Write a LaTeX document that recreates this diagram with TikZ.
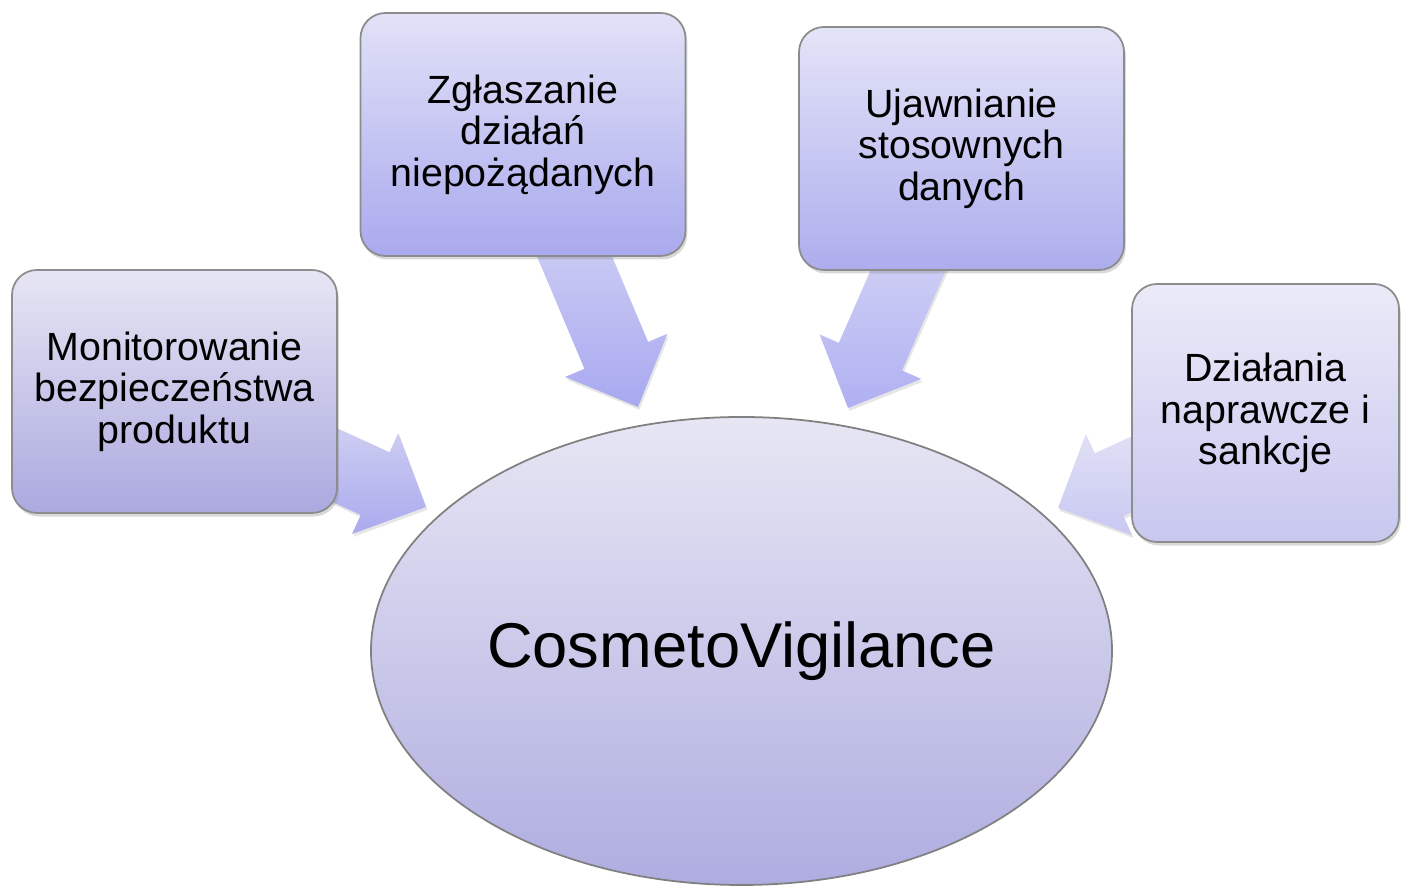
\documentclass[tikz,border=0pt]{standalone}
\usepackage{fontspec}
\setmainfont{Liberation Sans}
\usetikzlibrary{calc,shapes.geometric,shadows,backgrounds}

\definecolor{hubtop}{HTML}{E7E6F4}
\definecolor{hubbot}{HTML}{AFADE0}
\definecolor{montop}{HTML}{E7E6F4}
\definecolor{monbot}{HTML}{ABA9DF}
\definecolor{zgltop}{HTML}{E2E2F8}
\definecolor{zglbot}{HTML}{A9A9EE}
\definecolor{ujawtop}{HTML}{E4E4F8}
\definecolor{ujawbot}{HTML}{ADADEE}
\definecolor{dzialtop}{HTML}{EBEAF8}
\definecolor{dzialbot}{HTML}{C8C7EF}
\definecolor{aronetop}{HTML}{E4E4F6}
\definecolor{aronebot}{HTML}{AAAAEE}
\definecolor{artwotop}{HTML}{E6E6F8}
\definecolor{artwobot}{HTML}{A8A8F0}
\definecolor{arthreetop}{HTML}{E8E8F8}
\definecolor{arthreebot}{HTML}{B0B0F2}
\definecolor{arfourtop}{HTML}{ECECF8}
\definecolor{arfourbot}{HTML}{C8C8F2}

\begin{document}
\begin{tikzpicture}[
    box/.style={rectangle, rounded corners=0.25cm, draw=black!45, line width=0.5pt,
        minimum width=3.25cm, minimum height=2.43cm, align=center,
        font=\fontsize{11.2}{11.8}\selectfont,
        drop shadow={opacity=0.3, shadow xshift=0.5pt, shadow yshift=-1pt}},
    hub/.style={ellipse, draw=black!50, line width=0.5pt, minimum width=7.41cm,
        minimum height=4.68cm, inner sep=0pt, top color=hubtop, bottom color=hubbot,
        font=\fontsize{18}{21}\selectfont},
    fat/.style={drop shadow={opacity=0.2, shadow xshift=0.4pt, shadow yshift=-0.8pt}}
]
    \useasboundingbox (0,0) rectangle (14.01,8.87);

    \node[hub] (cv) at (7.415,2.36) {CosmetoVigilance};

    \node[box, top color=montop, bottom color=monbot] (mon) at (1.745,4.955)
        {Monitorowanie\\bezpieczeństwa\\produktu};
    \node[box, top color=zgltop, bottom color=zglbot] (zgl) at (5.23,7.525)
        {Zgłaszanie\\działań\\niepożądanych};
    \node[box, top color=ujawtop, bottom color=ujawbot] (ujaw) at (9.615,7.385)
        {Ujawnianie\\stosownych\\danych};
    \node[box, top color=dzialtop, bottom color=dzialbot, minimum width=2.67cm,
        minimum height=2.58cm] (dzial) at (12.655,4.74)
        {Działania\\naprawcze i\\sankcje};

    \coordinate (t1) at (4.26,3.80);
    \coordinate (t2) at (6.38,4.80);
    \coordinate (t3) at (8.48,4.79);
    \coordinate (t4) at (10.58,3.79);

    \begin{scope}[on background layer]
        \foreach \src/\tip/\ct/\cb in {mon/t1/aronetop/aronebot, zgl/t2/artwotop/artwobot,
                ujaw/t3/arthreetop/arthreebot, dzial/t4/arfourtop/arfourbot}
            \path[fat, top color=\ct, bottom color=\cb]
                let \p1=(\src.center), \p2=(\tip), \n1={atan2(\y2-\y1,\x2-\x1)+90} in
                ($(\p1)+(\n1:0.345)$) -- ($(\p2)!0.56cm!(\p1)+(\n1:0.345)$)
                -- ($(\p2)!0.56cm!(\p1)+(\n1:0.555)$) -- (\p2)
                -- ($(\p2)!0.56cm!(\p1)-(\n1:0.555)$) -- ($(\p2)!0.56cm!(\p1)-(\n1:0.345)$)
                -- ($(\p1)-(\n1:0.345)$) -- cycle;
    \end{scope}
\end{tikzpicture}
\end{document}
